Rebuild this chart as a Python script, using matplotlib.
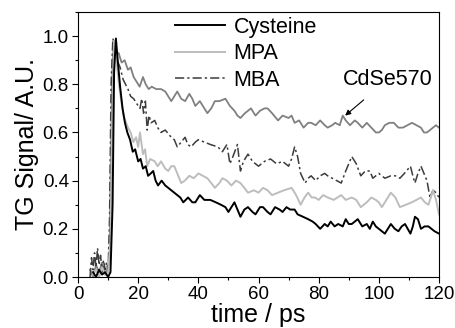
import matplotlib
matplotlib.use("Agg")
import matplotlib.pyplot as plt
from matplotlib.ticker import MultipleLocator

plt.rcParams['font.family'] = ['Liberation Sans', 'DejaVu Sans']

# ---- data ----
cys_t = [5, 6, 7, 8, 9, 10, 10.8, 11.5, 12.0, 12.6, 13.2, 14, 14.8, 15.6, 16.4, 17.3, 18.2, 19, 20, 20.8,
         21.6, 22.5, 23.3, 24.2, 25, 25.8, 26.6, 27.8, 29, 30, 31, 32, 33, 34, 35, 36.6, 38, 39, 40.5, 42,
         44, 45.8, 47.5, 49, 50, 51, 52, 53, 54, 55.3, 56.5, 58, 59, 60.5, 61.5, 63, 64, 65.5, 67, 68,
         69.3, 70.5, 72, 73, 74.8, 76.5, 78, 79, 80.5, 82, 83, 84, 85.3, 86.5, 88, 89, 90, 91, 92, 93,
         94.5, 96, 97, 98, 99, 100, 101, 102, 103, 104, 105.3, 106.5, 107.6, 108.7, 109.6, 110.5, 111.3,
         112, 113, 114, 115.2, 116.5, 117.5, 118.5, 120]
cys_v = [0.02, 0.0, 0.03, 0.01, 0.02, 0.0, 0.02, 0.3, 0.85, 0.99, 0.9, 0.79, 0.7, 0.64, 0.6, 0.57, 0.52, 0.53, 0.48, 0.49,
         0.45, 0.46, 0.42, 0.43, 0.44, 0.40, 0.38, 0.40, 0.38, 0.37, 0.36, 0.35, 0.34, 0.33, 0.31, 0.33, 0.31, 0.31, 0.34, 0.32,
         0.32, 0.31, 0.30, 0.29, 0.27, 0.29, 0.31, 0.28, 0.25, 0.28, 0.29, 0.27, 0.26, 0.29, 0.29, 0.27, 0.26, 0.29, 0.28, 0.27,
         0.29, 0.28, 0.28, 0.26, 0.25, 0.24, 0.23, 0.22, 0.20, 0.22, 0.21, 0.23, 0.21, 0.22, 0.21, 0.24, 0.22, 0.22, 0.23, 0.24,
         0.21, 0.22, 0.20, 0.23, 0.21, 0.20, 0.19, 0.18, 0.20, 0.22, 0.20, 0.19, 0.21, 0.22, 0.20, 0.18, 0.21,
         0.25, 0.24, 0.20, 0.21, 0.21, 0.20, 0.19, 0.18]

mpa_t = [5, 6, 7, 8, 9, 10, 10.8, 11.3, 12, 12.8, 13.6, 14.4, 15.2, 16, 16.6, 17.5, 18.4, 19.3, 20, 20.6,
         21.6, 22.3, 23, 24, 25.5, 26.5, 27.6, 29, 30, 31, 32, 33, 34.3, 35.5, 37, 38.5, 40, 41.5, 43, 44.3,
         45.5, 47, 48, 49.5, 51, 52.5, 54, 55.3, 56.5, 58.5, 60, 61.5, 63, 64.5, 66.5, 68.5, 71, 72.5, 74, 75.3,
         76.5, 77.7, 78.8, 80, 81.5, 83, 85, 87.5, 89, 91, 92.5, 94, 96, 97.5, 99, 100, 101, 102.5, 104, 105.5,
         107, 109, 111, 112.5, 114, 115.3, 116.5, 117.3, 118, 119, 120]
mpa_v = [0.01, 0.03, 0.0, 0.04, 0.01, 0.02, 0.15, 0.6, 0.98, 0.9, 0.8, 0.73, 0.67, 0.64, 0.62, 0.6, 0.56, 0.58, 0.54, 0.6,
         0.51, 0.53, 0.46, 0.49, 0.48, 0.46, 0.48, 0.45, 0.44, 0.46, 0.46, 0.43, 0.39, 0.40, 0.42, 0.41, 0.43, 0.42, 0.41, 0.39,
         0.37, 0.39, 0.41, 0.40, 0.38, 0.40, 0.39, 0.37, 0.35, 0.36, 0.35, 0.37, 0.36, 0.34, 0.35, 0.36, 0.37, 0.34, 0.30, 0.33,
         0.35, 0.33, 0.33, 0.32, 0.34, 0.33, 0.32, 0.34, 0.32, 0.33, 0.32, 0.29, 0.31, 0.33, 0.32, 0.31, 0.29, 0.32, 0.35, 0.33,
         0.29, 0.30, 0.31, 0.32, 0.33, 0.31, 0.30, 0.33, 0.36, 0.32, 0.26]

mba_t = [4, 4.5, 5, 5.5, 6, 6.5, 7, 7.5, 8, 8.5, 9, 9.5, 10, 10.5, 11, 11.6, 12.3, 13, 14, 15,
         16.6, 17.5, 18.5, 19.5, 20.6, 21.2, 21.8, 22.4, 23, 23.6, 24.3, 25.5, 26.5, 27.6, 29, 31, 32, 33, 34.3, 35.6,
         36.5, 37.6, 39, 40, 42, 44, 46.5, 48, 49.5, 50.5, 51.5, 53, 54, 55, 56.5, 58, 60, 62, 64, 66,
         68, 70, 71, 72, 73, 74, 75.5, 76.5, 77.5, 79, 80.5, 82, 83, 84.5, 86, 87.5, 89, 91, 92.5, 94,
         95.5, 97, 98, 99, 100, 102, 104, 105.5, 107, 108.5, 110.5, 111.3, 112, 113, 114, 115, 116, 117, 118, 119, 120]
mba_v = [0.0, 0.08, 0.03, 0.1, 0.04, 0.12, 0.05, 0.09, 0.02, 0.07, 0.03, 0.06, 0.02, 0.25, 0.8, 0.99, 0.95, 0.9, 0.87, 0.82,
         0.78, 0.75, 0.74, 0.72, 0.70, 0.74, 0.68, 0.73, 0.61, 0.67, 0.64, 0.65, 0.62, 0.60, 0.61, 0.58, 0.57, 0.54, 0.56, 0.58,
         0.55, 0.54, 0.56, 0.57, 0.56, 0.55, 0.54, 0.52, 0.55, 0.47, 0.50, 0.55, 0.44, 0.48, 0.51, 0.48, 0.46, 0.48, 0.49, 0.47,
         0.48, 0.46, 0.49, 0.54, 0.50, 0.43, 0.39, 0.41, 0.42, 0.40, 0.42, 0.43, 0.42, 0.41, 0.40, 0.39, 0.44, 0.50, 0.47, 0.42,
         0.44, 0.44, 0.41, 0.42, 0.43, 0.41, 0.42, 0.42, 0.41, 0.43, 0.46, 0.42, 0.39, 0.43, 0.46, 0.43, 0.40, 0.33, 0.36, 0.35, 0.33]

cdse_t = [4, 5, 6, 7, 8, 9, 10, 10.5, 11, 11.5, 12, 12.6, 13.5, 14.5, 15.5, 16.6, 17.5, 18.5, 19.5, 20.5,
          21.6, 22.5, 23.5, 24.5, 26, 27.6, 29, 30, 31, 32, 33, 34.3, 35.6, 37, 38, 39, 40.5, 42, 43, 44.3,
          45.5, 47, 49, 50.5, 52, 53, 54, 55.5, 57.5, 59, 60.5, 62, 63, 64.5, 66.5, 68, 70, 71, 72, 73.5,
          75, 76.5, 77.5, 79, 80.5, 82, 83, 84.5, 85.5, 87, 88, 89, 90.4, 92, 93, 94.5, 96, 97.5, 99, 100,
          101, 102, 103.5, 105, 106.5, 108, 109.5, 111, 112.5, 114, 115, 116, 117, 118, 119, 120]
cdse_v = [0.03, 0.0, 0.05, 0.02, 0.06, 0.01, 0.04, 0.1, 0.55, 0.9, 0.97, 0.92, 0.93, 0.89, 0.90, 0.86, 0.87, 0.83, 0.81, 0.79,
          0.83, 0.80, 0.78, 0.79, 0.78, 0.78, 0.77, 0.75, 0.73, 0.75, 0.77, 0.74, 0.73, 0.76, 0.74, 0.71, 0.73, 0.70, 0.68, 0.70,
          0.73, 0.73, 0.74, 0.71, 0.69, 0.67, 0.66, 0.68, 0.70, 0.67, 0.69, 0.70, 0.70, 0.68, 0.65, 0.67, 0.66, 0.67, 0.64, 0.65,
          0.62, 0.64, 0.64, 0.63, 0.65, 0.63, 0.62, 0.63, 0.64, 0.63, 0.67, 0.65, 0.63, 0.65, 0.64, 0.62, 0.64, 0.62, 0.60, 0.60,
          0.61, 0.63, 0.64, 0.64, 0.62, 0.62, 0.63, 0.64, 0.63, 0.62, 0.60, 0.60, 0.61, 0.62, 0.63, 0.62]

labels = ["Cysteine", "MPA", "MBA"]
annot_text = "CdSe570"
xticks = [0, 20, 40, 60, 80, 100, 120]
yticks = [0.0, 0.2, 0.4, 0.6, 0.8, 1.0]

# ---- figure ----
fig = plt.figure(figsize=(4.55, 3.28), dpi=100)
ax = fig.add_axes([78/455, 1-277/328, 361/455, 265/328])

ax.plot(cdse_t, cdse_v, color='#808080', lw=1.3)
ax.plot(mba_t, mba_v, color='#3c3c3c', lw=1.1, dashes=(6, 2, 1.5, 2), label=labels[2])
ax.plot(mpa_t, mpa_v, color='#bdbdbd', lw=1.4, label=labels[1])
ax.plot(cys_t, cys_v, color='black', lw=1.4, label=labels[0])

h, l = ax.get_legend_handles_labels()
order = [2, 1, 0]
ax.legend([h[i] for i in order], [l[i] for i in order], frameon=False,
          loc='upper left', bbox_to_anchor=(0.245, 1.015), fontsize=15.5,
          handlelength=2.3, handletextpad=0.42, labelspacing=0.26, borderaxespad=0.0)

ax.annotate(annot_text, xy=(88.8, 0.67), xytext=(103, 0.82), fontsize=15.5,
            ha='center', va='center',
            arrowprops=dict(arrowstyle='-|>', color='black', lw=0.8, mutation_scale=8,
                            shrinkA=8, shrinkB=0))

ax.set_xlim(0, 120)
ax.set_ylim(0, 1.1)
ax.set_xticks(xticks)
ax.set_yticks(yticks)
ax.set_yticklabels([f"{v:.1f}" for v in yticks])
ax.xaxis.set_minor_locator(MultipleLocator(10))
ax.yaxis.set_minor_locator(MultipleLocator(0.1))
ax.tick_params(which='both', direction='out', top=False, right=False, labelsize=13.5)
ax.tick_params(which='major', length=4, width=0.8, pad=2.5)
ax.tick_params(which='minor', length=2.5, width=0.8)
ax.set_xlabel("time / ps", fontsize=18, labelpad=0)
ax.set_ylabel("TG Signal/ A.U.", fontsize=18, labelpad=3)

fig.savefig("out.png", dpi=100)
